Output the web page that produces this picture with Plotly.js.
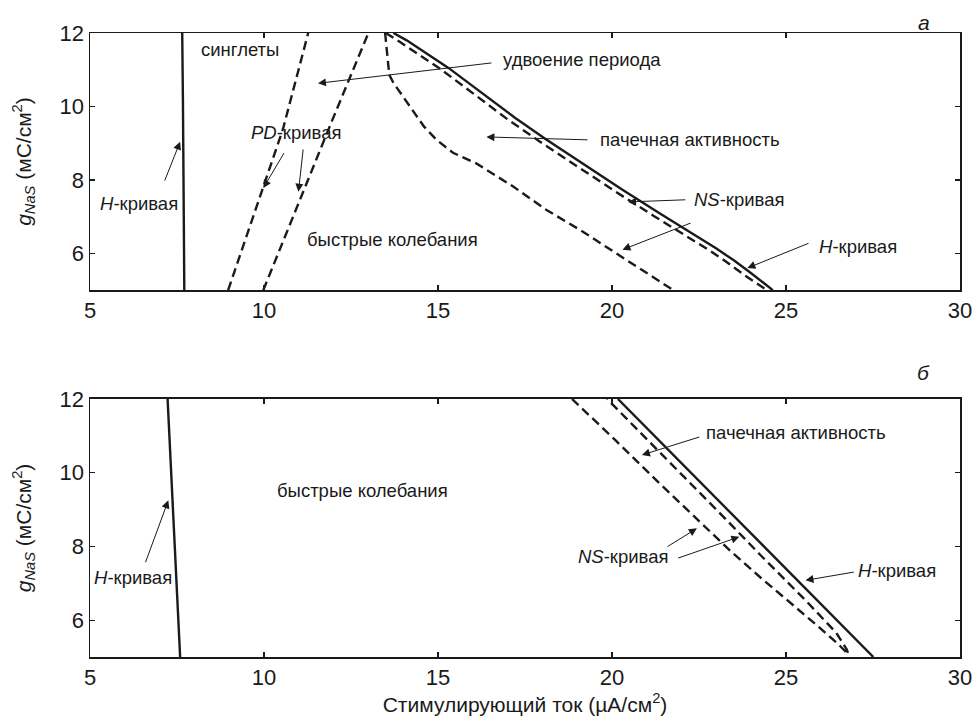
<!DOCTYPE html>
<html>
<head>
<meta charset="utf-8">
<script src="https://cdn.plot.ly/plotly-3.0.1.min.js"></script>
<style>html,body{margin:0;padding:0;background:#fff;}#chart{width:976px;height:716px;}</style>
</head>
<body>
<div id="chart"></div>
<script>
// ---- Panel а (top) ----
const topHx = [7.65, 7.65, 7.67, 7.71];
const topHy = [12, 10.4, 10.2, 5];
const pdLeftX = [8.97, 9.55, 9.98, 10.55, 11.27];
const pdLeftY = [5, 6.6, 7.82, 9.4, 12];
const pdRightX = [9.98, 11.0, 11.95, 13.0];
const pdRightY = [5, 7.4, 9.6, 12];
const nsLowX = [13.48, 13.55, 13.6, 13.72, 14.0, 14.28, 14.6, 14.96, 15.43, 16.1, 17.16, 18.12, 19.08, 20.04, 21.0, 21.76];
const nsLowY = [12, 11.4, 10.86, 10.64, 10.25, 9.86, 9.45, 9.09, 8.74, 8.45, 7.82, 7.18, 6.64, 6.05, 5.46, 5.0];
const hRightX = [13.72, 14.1, 15.3, 16.3, 17.2, 18.1, 19.2, 20.3, 21.4, 22.5, 23.0, 23.5, 24.0, 24.62];
const hRightY = [12, 11.8, 11.05, 10.33, 9.70, 9.11, 8.41, 7.73, 7.07, 6.44, 6.13, 5.81, 5.46, 5.0];
const nsUpX = [13.5, 13.9, 15.1, 16.1, 17.0, 17.9, 19.0, 20.1, 21.2, 22.3, 22.8, 23.3, 23.8, 24.45];
const nsUpY = [12, 11.76, 11.0, 10.28, 9.65, 9.06, 8.36, 7.68, 7.02, 6.39, 6.08, 5.76, 5.41, 5.0];

// ---- Panel б (bottom) ----
const botHx = [7.23, 7.41, 7.59];
const botHy = [12, 8.5, 5];
const botH2x = [20.17, 21.3, 23.6, 25.56, 27.51];
const botH2y = [12, 10.92, 8.73, 6.86, 5.0];
const botNSx = [18.85, 20.09, 21.3, 22.47, 23.4, 24.25, 25.1, 25.9, 26.5, 26.79, 26.75, 26.44, 25.56, 24.25, 23.3, 21.03, 19.86];
const botNSy = [12, 10.89, 9.77, 8.71, 7.88, 7.17, 6.5, 5.85, 5.35, 5.07, 5.2, 5.66, 6.54, 7.78, 8.71, 10.89, 12];

const xTicks = [5, 10, 15, 20, 25, 30];
const yTicks = [6, 8, 10, 12];

const FONT = 'Liberation Sans, Arial, sans-serif';
const INK = '#1a1a1a';
const solid = {color: INK, width: 2.4};
const dashed = {color: INK, width: 2.4, dash: '9px,5px'};

function tr(x, y, line, xa, ya) {
  return {x: x, y: y, type: 'scatter', mode: 'lines', line: line, xaxis: xa, yaxis: ya, hoverinfo: 'skip', showlegend: false};
}

const data = [
  tr(topHx, topHy, solid, 'x', 'y'),
  tr(pdLeftX, pdLeftY, dashed, 'x', 'y'),
  tr(pdRightX, pdRightY, dashed, 'x', 'y'),
  tr(nsLowX, nsLowY, dashed, 'x', 'y'),
  tr(nsUpX, nsUpY, dashed, 'x', 'y'),
  tr(hRightX, hRightY, solid, 'x', 'y'),
  tr(botHx, botHy, solid, 'x2', 'y2'),
  tr(botH2x, botH2y, solid, 'x2', 'y2'),
  tr(botNSx, botNSy, dashed, 'x2', 'y2')
];

const TS = 18.5;
function label(text, x, y, xr, yr, size) {
  return {text: text, x: x, y: y, xref: xr, yref: yr, showarrow: false,
          font: {family: FONT, size: size || TS, color: INK}, xanchor: 'center', yanchor: 'middle'};
}
function arrow(tx, ty, hx, hy, xr, yr) {
  return {text: '', x: hx, y: hy, ax: tx, ay: ty, xref: xr, yref: yr, axref: xr, ayref: yr,
          showarrow: true, arrowhead: 2, arrowsize: 1.6, arrowwidth: 1, arrowcolor: INK, standoff: 0, startstandoff: 0};
}

const annotations = [
  // top panel
  label('синглеты', 9.30, 11.55, 'x', 'y'),
  label('<i>H</i>-кривая', 6.41, 7.37, 'x', 'y'),
  arrow(7.13, 7.94, 7.59, 9.04, 'x', 'y'),
  label('<i>PD</i>-кривая', 10.92, 9.28, 'x', 'y'),
  arrow(10.60, 8.77, 9.98, 7.78, 'x', 'y'),
  arrow(11.13, 8.87, 10.99, 7.68, 'x', 'y'),
  label('удвоение периода', 19.14, 11.27, 'x', 'y'),
  arrow(16.58, 11.19, 11.55, 10.63, 'x', 'y'),
  label('пачечная активность', 22.24, 9.09, 'x', 'y'),
  arrow(19.34, 9.09, 16.39, 9.17, 'x', 'y'),
  label('<i>NS</i>-кривая', 23.66, 7.46, 'x', 'y'),
  arrow(22.15, 7.46, 20.46, 7.40, 'x', 'y'),
  arrow(22.3, 6.84, 20.3, 6.1, 'x', 'y'),
  label('быстрые колебания', 13.68, 6.39, 'x', 'y'),
  label('<i>H</i>-кривая', 27.08, 6.19, 'x', 'y'),
  arrow(25.69, 6.29, 23.89, 5.6, 'x', 'y'),
  // bottom panel
  label('<i>H</i>-кривая', 6.24, 7.17, 'x2', 'y2'),
  arrow(6.58, 7.53, 7.25, 9.25, 'x2', 'y2'),
  label('быстрые колебания', 12.82, 9.53, 'x2', 'y2'),
  label('пачечная активность', 25.30, 11.09, 'x2', 'y2'),
  arrow(22.55, 10.98, 20.86, 10.48, 'x2', 'y2'),
  label('<i>NS</i>-кривая', 20.33, 7.72, 'x2', 'y2'),
  arrow(21.55, 7.97, 22.44, 8.49, 'x2', 'y2'),
  arrow(21.86, 7.67, 23.66, 8.26, 'x2', 'y2'),
  label('<i>H</i>-кривая', 28.2, 7.35, 'x2', 'y2'),
  arrow(26.99, 7.31, 25.56, 7.08, 'x2', 'y2'),
  // panel letters
  label('<i>а</i>', 0.9586, 1.0176, 'paper', 'paper', 21),
  label('<i>б</i>', 0.9586, 0.4567, 'paper', 'paper', 21)
];

function xax(anchor, withTitle) {
  const a = {anchor: anchor, range: [5, 30], tickvals: xTicks, ticktext: xTicks.map(String),
    ticks: 'inside', ticklen: 5, tickwidth: 1.2, tickcolor: INK, mirror: 'ticks', showline: true,
    linecolor: INK, linewidth: 1.5, showgrid: false, zeroline: false, automargin: false,
    tickfont: {family: FONT, size: 22, color: INK}, fixedrange: true};
  if (withTitle) a.title = {text: 'Стимулирующий ток (µA/см<sup>2</sup>)', font: {family: FONT, size: 21, color: INK}, standoff: 4};
  return a;
}
function yax(anchor, domain) {
  return {anchor: anchor, domain: domain, range: [5, 12], tickvals: yTicks, ticktext: yTicks.map(String),
    ticks: 'inside', ticklen: 5, tickwidth: 1.2, tickcolor: INK, mirror: 'ticks', showline: true,
    linecolor: INK, linewidth: 1.5, showgrid: false, zeroline: false, automargin: false,
    tickfont: {family: FONT, size: 22, color: INK}, fixedrange: true,
    title: {text: '<i>g</i><sub><i>NaS</i></sub> (мС/см<sup>2</sup>)', font: {family: FONT, size: 21, color: INK}, standoff: 22}};
}

const layout = {
  width: 976, height: 716,
  margin: {l: 90, r: 16, t: 33, b: 59},
  paper_bgcolor: '#fff', plot_bgcolor: '#fff',
  font: {family: FONT, color: INK},
  showlegend: false,
  xaxis: xax('y', false),
  yaxis: yax('x', [0.588, 1]),
  xaxis2: xax('y2', true),
  yaxis2: yax('x2', [0, 0.4135]),
  annotations: annotations
};

Plotly.newPlot('chart', data, layout, {staticPlot: true, displayModeBar: false});
</script>
</body>
</html>
